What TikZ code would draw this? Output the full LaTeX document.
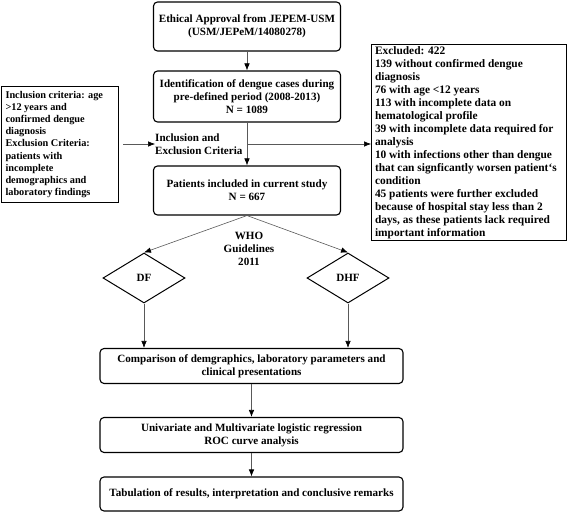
\documentclass[tikz,border=0pt]{standalone}
\usepackage{fontspec}
\setmainfont{Liberation Serif}
\usetikzlibrary{shapes.geometric,arrows.meta}
\begin{document}
\begin{tikzpicture}[x=1pt,y=-1pt,
  txt/.style={font=\fontsize{11.1}{13}\selectfont\bfseries},
  box/.style={txt,draw=black,line width=1.1pt,rounded corners=4pt,align=center,inner sep=0pt},
  plainbox/.style={draw=black,line width=1pt,align=left,inner sep=0pt,anchor=north west},
  dia/.style={txt,diamond,draw=black,line width=1pt,inner sep=0pt,minimum width=82pt,minimum height=50pt},
  conn/.style={draw=black!65,line width=0.6pt,-{Latex[length=7pt,width=5.5pt,color=black]}}]
\useasboundingbox (0,0) rectangle (567,513);

\node[box,minimum width=187pt,minimum height=49pt] (b1) at (247,26.5)
  {Ethical Approval from JEPEM-USM\\(USM/JEPeM/14080278)};
\node[box,minimum width=187pt,minimum height=51pt] (b2) at (247,96.5)
  {Identification of dengue cases during\\pre-defined period (2008-2013)\\N = 1089};
\node[box,minimum width=187pt,minimum height=49pt] (b3) at (247,190.5)
  {Patients included in current study\\N = 667};

\node[txt,align=left,anchor=west,inner sep=0pt] (crit) at (155,144)
  {Inclusion and\\Exclusion Criteria};

\node[plainbox,minimum width=117pt,minimum height=116pt] (left) at (1,86)
  {\hspace{3pt}\parbox[t][112pt][c]{112pt}{\fontsize{10.3}{12.2}\selectfont\bfseries\raggedright
  Inclusion criteria: age\\
  >12 years and\\
  confirmed dengue\\
  diagnosis\\
  Exclusion Criteria:\\
  patients with\\
  incomplete\\
  demographics and\\
  laboratory findings}};

\node[plainbox,minimum width=195pt,minimum height=196pt] (right) at (371,44)
  {\hspace{3pt}\parbox[t][194pt][c]{191pt}{\fontsize{11.4}{13}\selectfont\bfseries\raggedright
  Excluded: 422\\
  139 without confirmed dengue\\
  diagnosis\\
  76 with age <12 years\\
  113 with incomplete data on\\
  hematological profile\\
  39 with incomplete data required for\\
  analysis\\
  10 with infections other than dengue\\
  that can signficantly worsen patient`s\\
  condition\\
  45 patients were further excluded\\
  because of hospital stay less than 2\\
  days, as these patients lack required\\
  important information}};

\node[txt,align=center,inner sep=0pt] (who) at (249,249)
  {WHO\\Guidelines\\2011};

\node[dia] (df) at (144,278) {DF};
\node[dia] (dhf) at (348,278) {DHF};

\node[box,minimum width=303pt,minimum height=35pt] (b4) at (251.5,366)
  {Comparison of demgraphics, laboratory parameters and\\clinical presentations};
\node[box,minimum width=303pt,minimum height=35pt] (b5) at (251.5,435)
  {Univariate and Multivariate logistic regression\\ROC curve analysis};
\node[box,minimum width=303pt,minimum height=34pt] (b6) at (251.5,494)
  {Tabulation of results, interpretation and conclusive remarks};

\coordinate (lstart) at (123,144);
\coordinate (split) at (b2.south |- crit.west);

\draw[conn] (b1) -- (b2);
\draw[conn] (b2) -- (b3);
\draw[conn] (lstart) -- (crit.west);
\draw[conn] (split) -- (right.west |- split);
\draw[conn] (b3.south) -- (df.north);
\draw[conn] (b3.south) -- (dhf.north);
\draw[conn] (df.south) -- (df.south |- b4.north);
\draw[conn] (dhf.south) -- (dhf.south |- b4.north);
\draw[conn] (b4) -- (b5);
\draw[conn] (b5) -- (b6);
\end{tikzpicture}
\end{document}
